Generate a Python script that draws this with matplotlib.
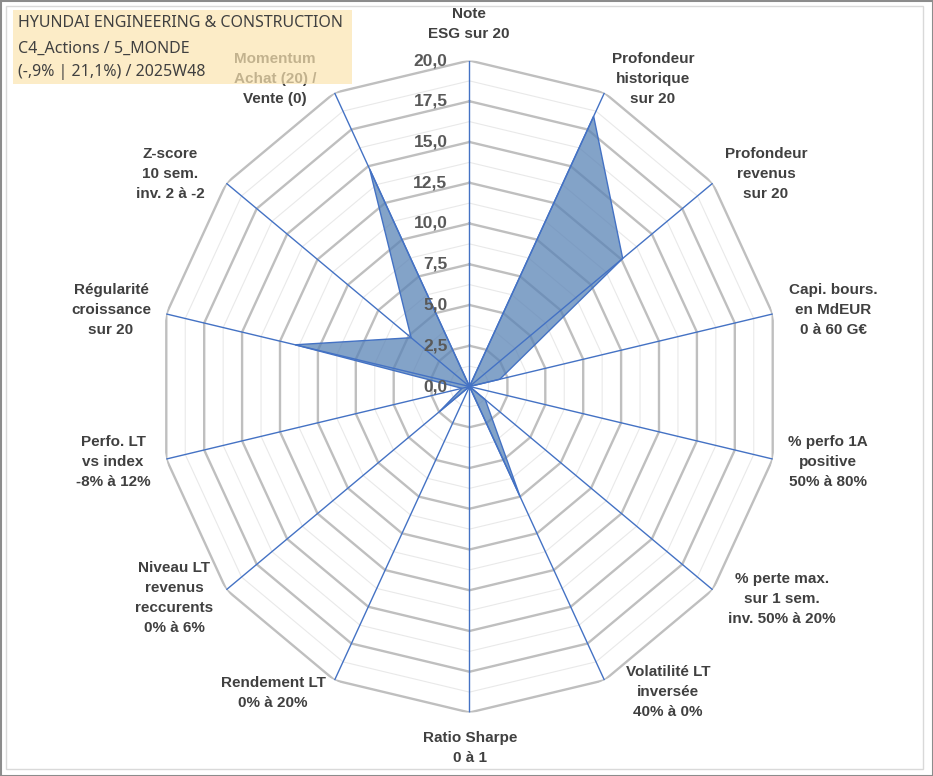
import numpy as np
import matplotlib
matplotlib.use("Agg")
import matplotlib.pyplot as plt
from matplotlib.patches import Rectangle
from matplotlib.colors import to_rgba
from matplotlib.transforms import offset_copy

# data, clockwise from the top spoke
categories = [
    "Note\nESG sur 20",
    "Profondeur\nhistorique\nsur 20",
    "Profondeur\nrevenus\nsur 20",
    "Capi. bours.\nen MdEUR\n0 à 60 G€",
    "% perfo 1A\npositive\n50% à 80%",
    "% perte max.\nsur 1 sem.\ninv. 50% à 20%",
    "Volatilité LT\ninversée\n40% à 0%",
    "Ratio Sharpe\n0 à 1",
    "Rendement LT\n0% à 20%",
    "Niveau LT\nrevenus\nreccurents\n0% à 6%",
    "Perfo. LT\nvs index\n-8% à 12%",
    "Régularité\ncroissance\nsur 20",
    "Z-score\n10 sem.\ninv. 2 à -2",
    "Momentum\nAchat (20) /\nVente (0)",
]
values = [0.0, 18.4, 12.6, 2.0, 0.0, 1.3, 7.5, 0.0, 0.0, 2.5, 0.5, 11.5, 4.8, 14.8]
major_ticks = [0.0, 2.5, 5.0, 7.5, 10.0, 12.5, 15.0, 17.5, 20.0]
minor_ticks = [1.25, 3.75, 6.25, 8.75, 11.25, 13.75, 16.25, 18.75]
title_lines = [
    "HYUNDAI ENGINEERING & CONSTRUCTION",
    "C4_Actions / 5_MONDE",
    "(-,9% | 21,1%) / 2025W48",
]

# layout (pixels of the 933x776 picture)
W, H = 933, 776
label_xy = [(469, 24), (653, 79), (766, 174), (833, 310), (828, 462),
            (782, 599), (668, 692), (470, 748), (273, 693), (174, 598),
            (113, 462), (111, 310), (170, 174), (275, 79)]
title_y = [23, 49, 72]

BLUE = "#4472C4"
TXT = "#404040"

fig = plt.figure(figsize=(W / 100, H / 100), dpi=100)
fig.patch.set_facecolor("white")

# center (469.5, 386.5), horizontal radius 311, vertical radius 326
ax = fig.add_axes([158.5 / W, (H - 712.5) / H, 622 / W, 652 / H],
                  projection="polar")
ax.set_theta_zero_location("N")
ax.set_theta_direction(-1)
ax.set_ylim(0, 20)
ax.set_aspect("auto")
ax.set_facecolor("none")
ax.grid(False)
ax.set_xticks([])
ax.set_yticks([])
ax.spines["polar"].set_visible(False)

n = len(categories)
angles = np.linspace(0, 2 * np.pi, n, endpoint=False)
closed = np.append(angles, angles[0])

for r in minor_ticks:
    ax.plot(closed, [r] * (n + 1), color="#E9E9E9", lw=0.8, zorder=1)
for r in major_ticks[1:]:
    ax.plot(closed, [r] * (n + 1), color="#BFBFBF", lw=1.7, zorder=1)

vals = np.append(values, values[0])
ax.fill(closed, vals, facecolor=to_rgba("#5A84B6", 0.75),
        edgecolor=BLUE, lw=1.0, zorder=3)

for a in angles:
    ax.plot([a, a], [0, 20], color=BLUE, lw=1.0, zorder=4)

tick_tr = offset_copy(ax.transData, fig=fig, x=-22, y=0, units="dots")
for r in major_ticks:
    ax.text(0, r, f"{r:.1f}".replace(".", ","), transform=tick_tr,
            ha="right", va="center", fontsize=12.5, fontweight="bold",
            color="#595959", family="Liberation Sans", zorder=6)

for i, (lab, (x, y)) in enumerate(zip(categories, label_xy)):
    fig.text(x / W, 1 - y / H, lab, ha="center", va="center",
             fontsize=11, fontweight="bold", color=TXT,
             family="Liberation Sans", linespacing=1.55,
             zorder=1.5 if i == n - 1 else 3)

# title box, semi-transparent over the momentum label
fig.patches.append(Rectangle((13 / W, 1 - 84 / H), 339 / W, 74 / H,
                             transform=fig.transFigure,
                             facecolor=(251 / 255, 228 / 255, 176 / 255, 0.7),
                             edgecolor="none", zorder=2))
for line, y in zip(title_lines, title_y):
    fig.text(18 / W, 1 - y / H, line, ha="left", va="center",
             fontsize=11.5, color=TXT, family="Noto Sans", zorder=3)

# frame
fig.patches.append(Rectangle((6 / W, 1 - 769 / H), 917 / W, 763 / H,
                             transform=fig.transFigure, fill=False,
                             edgecolor="#D9D9D9", lw=1.0, zorder=0))
fig.patches.append(Rectangle((0.5 / W, 0.5 / H), 1 - 1 / W, 1 - 1 / H,
                             transform=fig.transFigure, fill=False,
                             edgecolor="#8C8C8C", lw=1.5, zorder=0))

fig.savefig("out.png", dpi=100)
